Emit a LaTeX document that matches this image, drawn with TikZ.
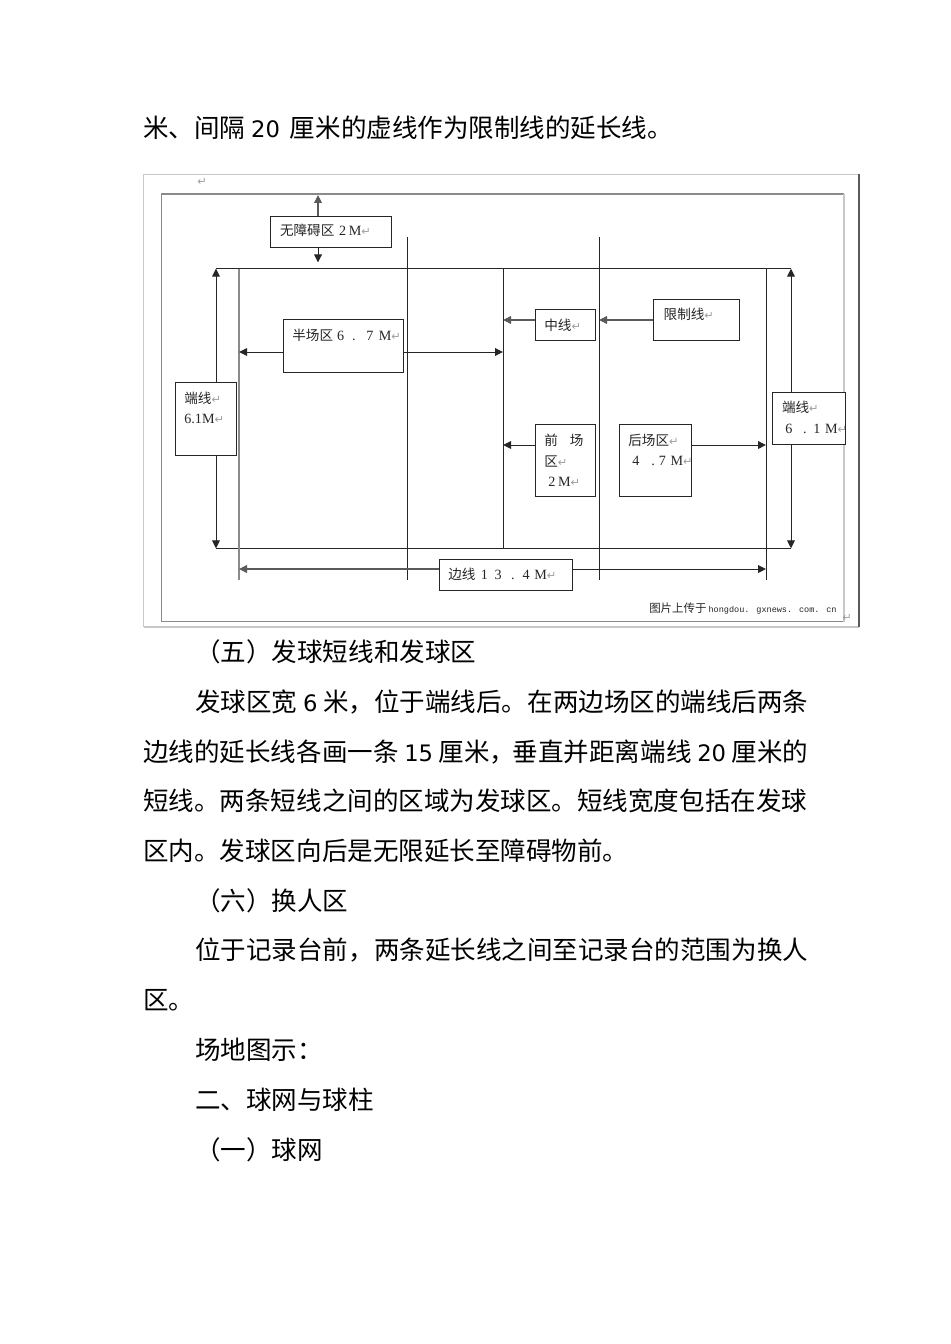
\documentclass[tikz,border=0pt]{standalone}
\usepackage{fontspec}
\usetikzlibrary{arrows.meta}
\setmainfont{Noto Sans CJK SC}
\newfontfamily\latf{Liberation Serif}
\newfontfamily\retf{DejaVu Sans}
\newfontfamily\monof{Liberation Mono}
\definecolor{ink}{HTML}{262626}
\definecolor{grayline}{HTML}{8A8A8A}
\definecolor{lightline}{HTML}{C8C8C8}
\definecolor{darkline}{HTML}{5A5A5A}
\newcommand{\ret}{{\retf\color{gray!75}\fontsize{8.5}{8.5}\selectfont ↵}}
\newcommand{\Lt}[1]{{\latf\fontsize{10.6}{11}\selectfont #1}}
\newcommand{\Gp}[1]{\hspace{#1pt}}
\newcommand{\Dg}[1]{{\retf\fontsize{17}{17}\selectfont #1}}
\newcommand{\bx}[7]{%
  \pgfmathsetlengthmacro{\bw}{(#4-#2)*0.75pt}%
  \pgfmathsetlengthmacro{\bh}{(#5-#3)*0.75pt}%
  \node[boxn,anchor=north west] (#1) at (#2,#3)
    {\parbox[t][\bh][t]{\bw}{\vspace*{#6}\raggedright\parindent=0pt\baselineskip=15.4pt #7}};}
\tikzset{
  x=0.75pt,y=-0.75pt,
  boxn/.style={draw=ink,line width=0.7pt,fill=white,inner sep=0pt,outer sep=0pt,text=ink,font=\fontsize{10.2}{15}\selectfont},
  body/.style={anchor=base west,inner sep=0pt,text=black,font=\fontsize{19.15}{20}\selectfont},
  rule/.style={draw=ink,line width=0.74pt},
  rulegray/.style={draw=grayline,line width=0.9pt},
  arr/.style={draw=ink,line width=0.74pt,-{Triangle[length=6pt,width=5.8pt]}},
  arrgray/.style={draw=darkline,line width=0.8pt,-{Triangle[length=6pt,width=5.8pt]}},
}
\begin{document}
\begin{tikzpicture}
\useasboundingbox[fill=white] (0,0) rectangle (950,1344);
% outer picture frame
\draw[lightline,line width=0.8pt] (143.5,627) -- (143.5,174.5) -- (859,174.5);
\draw[lightline,line width=0.8pt] (143.5,627) -- (859,627);
\draw[darkline,line width=0.9pt] (859,174.5) -- (859,627);
% inner frame
\draw[grayline,line width=0.8pt] (161.5,621.5) -- (161.5,194) -- (844,194);
\draw[grayline,line width=1pt] (161.5,621.5) -- (844,621.5);
\draw[lightline,line width=0.9pt] (844,194) -- (844,621.5);
% court lines
\coordinate (TL) at (216,268.7);
\coordinate (TR) at (791,268.7);
\coordinate (BL) at (216,548.3);
\coordinate (BR) at (791,548.3);
\coordinate (A1) at (239,268.7);
\coordinate (A2) at (239,580);
\coordinate (B1) at (407,237);
\coordinate (B2) at (407,580);
\coordinate (C1) at (503,268.7);
\coordinate (C2) at (503,548.3);
\coordinate (D1) at (599,237);
\coordinate (D2) at (599,580);
\coordinate (E1) at (766,268.7);
\coordinate (E2) at (766,580);
\coordinate (Ftop) at (318,195);
\coordinate (Fbot) at (318,262.5);
\draw[rule] (TL) -- (TR);
\draw[rule] (BL) -- (BR);
\draw[rulegray] (A1) -- (A2);
\draw[rule] (B1) -- (B2);
\draw[rule] (C1) -- (C2);
\draw[rule] (D1) -- (D2);
\draw[rule] (E1) -- (E2);
% boxes
\bx{wz}{270.7}{216}{391.7}{247}{5.7pt}{\mbox{\hspace*{7pt}无障碍区\Gp{3.5}\Lt{2\Gp{2}M}\ret}}
\bx{bc}{283}{319}{403}{372}{7.5pt}{\mbox{\hspace*{7pt}半场区\Gp{3}\Lt{6\Gp{6}.\Gp{8}7\Gp{4}M}\ret}}
\bx{dl}{175}{382}{236}{455}{7.3pt}{\mbox{\hspace*{7pt}端线\ret}\\\mbox{\hspace*{7pt}\Lt{6.1M}\ret}}
\bx{zx}{535}{309}{595}{340}{7.3pt}{\mbox{\hspace*{7pt}中线\ret}}
\bx{xz}{653}{299}{739}{340}{6.5pt}{\mbox{\hspace*{8pt}限制线\ret}}
\bx{dr}{772}{392}{845}{444}{7pt}{\mbox{\hspace*{7.5pt}端线\ret}\\\mbox{\hspace*{10pt}\Lt{6\Gp{8}.\Gp{5}1\Gp{3.5}M}\ret}}
\bx{qc}{535}{424}{595}{496}{7.6pt}{\mbox{\hspace*{7pt}前\Gp{9}场}\\\mbox{\hspace*{7pt}区\ret}\\\mbox{\hspace*{10pt}\Lt{2\Gp{2}M}\ret}}
\bx{hc}{619}{424}{691}{496}{7.6pt}{\mbox{\hspace*{7pt}后场区\ret}\\\mbox{\hspace*{10pt}\Lt{4\Gp{9}.\Gp{3}7\Gp{3.5}M}\ret}}
\bx{bx}{439}{559}{572}{590}{6.5pt}{\mbox{\hspace*{7pt}边线\Gp{4}\Lt{1\Gp{5}3\Gp{7}.\Gp{6}4\Gp{3.5}M}\ret}}
% arrows
\draw[arrgray] (wz.north -| Ftop) -- (Ftop);
\draw[arr] (wz.south -| Fbot) -- (Fbot);
\draw[arr] (dl.north -| TL) -- (TL);
\draw[arr] (dl.south -| BL) -- (BL);
\draw[arr] (dr.north -| TR) -- (TR);
\draw[arr] (dr.south -| BR) -- (BR);
\draw[arr] (bc.west |- 0,352) -- (A1 |- 0,352);
\draw[arr] (bc.east |- 0,352) -- (C1 |- 0,352);
\draw[arrgray] (zx.west |- 0,320) -- (C1 |- 0,320);
\draw[arrgray] (xz.west |- 0,320) -- (D1 |- 0,320);
\draw[arr] (qc.west |- 0,445) -- (C1 |- 0,445);
\draw[arr] (hc.east |- 0,445) -- (E1 |- 0,445);
\draw[arrgray] (bx.west |- 0,569) -- (A1 |- 0,569);
\draw[arr] (bx.east |- 0,569) -- (E1 |- 0,569);
% stray marks and watermark
\node[inner sep=0pt] (r1) at (202,182) {\ret};
\node[inner sep=0pt] (r2) at (847,618) {\ret};
\node[anchor=base west,inner sep=0pt,text=ink] (wm) at (649,612)
  {\fontsize{8.6}{9}\selectfont 图片上传于\Gp{1.5}{\monof\fontsize{6.4}{9}\selectfont hongdou. gxnews. com. cn}};
% page text
\node[body] (t1) at (143,138) {米、间隔 \Dg{20} \,厘米的虚线作为限制线的延长线。};
\node[body] (t2) at (195,661) {（五）发球短线和发球区};
\node[body] (t3) at (195,711) {发球区宽 \Dg{6} 米，位于端线后。在两边场区的端线后两条};
\node[body] (t4) at (143,761) {边线的延长线各画一条 \Dg{15} 厘米，\Gp{-2}垂直并距离端线 \Dg{20} 厘米的};
\node[body] (t5) at (143,810) {短线。两条短线之间的区域为发球区。短线宽度包括在发球};
\node[body] (t6) at (143,860) {区内。发球区向后是无限延长至障碍物前。};
\node[body] (t7) at (195,910) {（六）换人区};
\node[body] (t8) at (195,959) {位于记录台前，两条延长线之间至记录台的范围为换人};
\node[body] (t9) at (143,1009) {区。};
\node[body] (t10) at (195,1059) {场地图示：};
\node[body] (t11) at (195,1109) {二、球网与球柱};
\node[body] (t12) at (195,1159) {（一）球网};
\end{tikzpicture}
\end{document}
